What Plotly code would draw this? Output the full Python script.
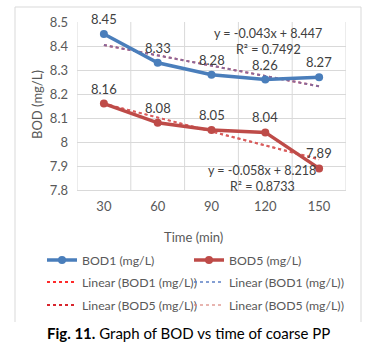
import plotly.graph_objects as go

times = ["30", "60", "90", "120", "150"]
bod1 = [8.45, 8.33, 8.28, 8.26, 8.27]
bod5 = [8.16, 8.08, 8.05, 8.04, 7.89]
trend1 = (-0.043, 8.447, 0.7492)
trend5 = (-0.058, 8.218, 0.8733)
y_ticks = [7.8, 7.9, 8.0, 8.1, 8.2, 8.3, 8.4, 8.5]
y_tick_text = ["7.8", "7.9", "8", "8.1", "8.2", "8.3", "8.4", "8.5"]

BLUE = "#4a7ebb"
RED = "#be4b48"
FONT = "Lato"
GREY = "#595959"

idx = list(range(1, len(times) + 1))
t1 = [trend1[0] * i + trend1[1] for i in idx]
t5 = [trend5[0] * i + trend5[1] for i in idx]

fig = go.Figure()

fig.add_trace(go.Scatter(x=times, y=t1, mode="lines", name="Linear (BOD1 (mg/L))",
                         line=dict(color="#ff2a2a", width=2, dash="dot"), legend="legend3"))
fig.add_trace(go.Scatter(x=times, y=t1, mode="lines", name="Linear (BOD1 (mg/L))",
                         line=dict(color="#5b7fc4", width=2, dash="dot"), opacity=0.75, legend="legend4"))
fig.add_trace(go.Scatter(x=times, y=t5, mode="lines", name="Linear (BOD5 (mg/L))",
                         line=dict(color="#d8262e", width=2, dash="dot"), legend="legend5"))
fig.add_trace(go.Scatter(x=times, y=t5, mode="lines", name="Linear (BOD5 (mg/L))",
                         line=dict(color="#d9837c", width=2, dash="dot"), opacity=0.6, legend="legend6"))

fig.add_trace(go.Scatter(x=times, y=bod1, mode="lines+markers", name="BOD1 (mg/L)",
                         line=dict(color=BLUE, width=3.5), marker=dict(size=8, color=BLUE),
                         legend="legend"))
fig.add_trace(go.Scatter(x=times, y=bod5, mode="lines+markers", name="BOD5 (mg/L)",
                         line=dict(color=RED, width=3.5), marker=dict(size=8, color=RED),
                         legend="legend2"))

for series in (bod1, bod5):
    for i, v in enumerate(series):
        fig.add_annotation(x=i, y=v, xref="x", yref="y", text=f"{v:.2f}", showarrow=False,
                           yshift=15, xanchor="center", yanchor="middle",
                           font=dict(family=FONT, size=13, color="#404040"))

def eq_text(tr):
    return f"y = {tr[0]:.3f}x + {tr[1]:.3f}", f"R² = {tr[2]:.4f}"

def px_ann(x, y, text, size=13, color="#404040", angle=0):
    fig.add_annotation(xref="paper", yref="paper", x=(x - 77) / 269, y=(190 - y) / 168,
                       text=text, showarrow=False, xanchor="center", yanchor="middle",
                       textangle=angle, font=dict(family=FONT, size=size, color=color))

e1, r1 = eq_text(trend1)
e5, r5 = eq_text(trend5)
px_ann(268, 34, e1, size=12.5)
px_ann(268, 50, r1, size=12.5)
px_ann(262, 170, e5, size=12.5)
px_ann(262, 186, r5, size=12.5)

px_ann(37, 105, "BOD (mg/L)", color=GREY, angle=-90)
px_ann(193, 237, "Time (min)", color=GREY)
px_ann(188, 333, "<b>Fig. 11.</b> Graph of BOD vs time of coarse PP", size=15, color="#000000")

# chart border (left, top, right)
fig.add_shape(type="path", xref="paper", yref="paper",
              path=f"M {(15-77)/269} {(190-322)/168} L {(15-77)/269} {(190-7)/168} "
                   f"L {(361-77)/269} {(190-7)/168} L {(361-77)/269} {(190-322)/168}",
              line=dict(color="#d9d9d9", width=1))

# vertical gridlines at category boundaries
for b in [-0.5, 0.5, 1.5, 2.5, 3.5, 4.5]:
    fig.add_shape(type="line", xref="x", yref="paper", x0=b, x1=b, y0=0, y1=1,
                  line=dict(color="#d9d9d9", width=1), layer="below")

leg_common = dict(orientation="h", xanchor="left", yanchor="middle",
                  font=dict(family=FONT, size=12.3, color=GREY), bgcolor="rgba(0,0,0,0)",
                  itemwidth=30)
C1 = (42 - 77) / 269
C2 = (189 - 77) / 269
R = [(190 - 260) / 168, (190 - 282) / 168, (190 - 305) / 168]
fig.update_layout(
    width=376, height=349,
    margin=dict(l=77, r=30, t=22, b=159),
    paper_bgcolor="white", plot_bgcolor="white",
    showlegend=True,
    legend=dict(x=C1, y=R[0], **leg_common),
    legend2=dict(x=C2, y=R[0], **leg_common),
    legend3=dict(x=C1, y=R[1], **leg_common),
    legend4=dict(x=C2, y=R[1], **leg_common),
    legend5=dict(x=C1, y=R[2], **leg_common),
    legend6=dict(x=C2, y=R[2], **leg_common),
    xaxis=dict(type="category", categoryorder="array", categoryarray=times,
               range=[-0.5, 4.5], showgrid=False, showline=True, linecolor="#d9d9d9",
               ticks="", ticklabelstandoff=4, tickfont=dict(family=FONT, size=13, color=GREY)),
    yaxis=dict(range=[7.8, 8.5], tickvals=y_ticks, ticktext=y_tick_text, showgrid=True,
               gridcolor="#d9d9d9", zeroline=False, ticks="", showline=False,
               ticklabelstandoff=8, tickfont=dict(family=FONT, size=13, color=GREY)),
)

fig.write_html("out.html")
